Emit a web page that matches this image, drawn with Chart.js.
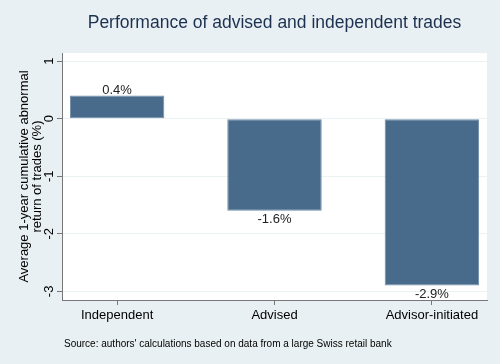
<!DOCTYPE html>
<html>
<head>
<meta charset="utf-8">
<script src="https://cdn.jsdelivr.net/npm/chart.js@4"></script>
<style>
  html, body { margin: 0; padding: 0; background: #e9f0f3; }
  #wrap { width: 500px; height: 364px; }
</style>
</head>
<body>
<div id="wrap"><canvas id="myChart" width="500" height="364"></canvas></div>
<script>
var categories = ['Independent', 'Advised', 'Advisor-initiated'];
var returns = [0.4, -1.6, -2.9];
var valueLabels = ['0.4%', '-1.6%', '-2.9%'];
var yTicks = [1, 0, -1, -2, -3];

var chartTitle = 'Performance of advised and independent trades';
var yTitle = ['Average 1-year cumulative abnormal', 'return of trades (%)'];
var sourceNote = "Source: authors' calculations based on data from a large Swiss retail bank";

var font = 'Liberation Sans, Arial, sans-serif';

// title, axis title, note and bar labels drawn onto the canvas
var extras = {
  id: 'extras',
  afterDraw: function (chart) {
    var c = chart.ctx;
    var area = chart.chartArea;
    c.save();
    c.fillStyle = '#1c3050';
    c.font = '17.5px ' + font;
    c.textAlign = 'center';
    c.textBaseline = 'middle';
    c.fillText(chartTitle, (area.left + area.right) / 2, 23);

    c.fillStyle = '#000';
    c.font = '10px ' + font;
    c.textAlign = 'left';
    c.fillText(sourceNote, 64, 344);

    c.font = '13px ' + font;
    c.textAlign = 'center';
    c.translate(31, (area.top + area.bottom) / 2);
    c.rotate(-Math.PI / 2);
    c.fillText(yTitle[0], 0, -6.5);
    c.fillText(yTitle[1], 0, 6.5);
    c.restore();

    c.save();
    c.fillStyle = '#222';
    c.font = '13px ' + font;
    c.textAlign = 'center';
    var meta = chart.getDatasetMeta(0);
    meta.data.forEach(function (bar, i) {
      if (returns[i] >= 0) {
        c.textBaseline = 'bottom';
        c.fillText(valueLabels[i], bar.x, bar.y + 1);
      } else {
        c.textBaseline = 'top';
        c.fillText(valueLabels[i], bar.x, bar.y + 2);
      }
    });
    c.restore();
  }
};

var ctx = document.getElementById('myChart');
new Chart(ctx, {
  type: 'bar',
  data: {
    datasets: [{
      data: returns.map(function (v, i) { return { x: i, y: v }; }),
      backgroundColor: '#486b8c',
      borderColor: '#6f8ba6',
      borderWidth: 1,
      borderSkipped: false,
      categoryPercentage: 1,
      barPercentage: 0.6
    }]
  },
  options: {
    responsive: false,
    animation: false,
    layout: { padding: { top: 53, right: 13, left: 0, bottom: 0 } },
    plugins: {
      legend: { display: false },
      tooltip: { enabled: false }
    },
    scales: {
      x: {
        type: 'linear',
        offset: false,
        min: -0.35,
        max: 2.35,
        afterBuildTicks: function (scale) {
          scale.ticks = categories.map(function (c, i) { return { value: i }; });
        },
        afterFit: function (scale) { scale.height = 64; },
        ticks: {
          color: '#000',
          font: { family: font, size: 13 },
          padding: 3,
          callback: function (v) { return categories[v]; }
        },
        grid: { offset: false, drawOnChartArea: false, tickLength: 5, tickColor: '#777' },
        border: { color: '#777', width: 1 }
      },
      y: {
        min: -3.15,
        max: 1.14,
        afterBuildTicks: function (scale) {
          scale.ticks = yTicks.map(function (v) { return { value: v }; });
        },
        afterFit: function (scale) { scale.width = 62; },
        ticks: {
          color: '#000',
          font: { family: font, size: 13 },
          minRotation: 90,
          maxRotation: 90,
          crossAlign: 'center',
          padding: 2
        },
        grid: { color: '#eaf2f3', lineWidth: 1, tickLength: 5, tickColor: '#777' },
        border: { color: '#777', width: 1 }
      }
    }
  },
  plugins: [{
    id: 'plotBg',
    beforeDraw: function (chart) {
      var a = chart.chartArea;
      chart.ctx.save();
      chart.ctx.fillStyle = '#fff';
      chart.ctx.fillRect(a.left, a.top, a.right - a.left, a.bottom - a.top);
      chart.ctx.restore();
    }
  }, extras]
});
</script>
</body>
</html>
